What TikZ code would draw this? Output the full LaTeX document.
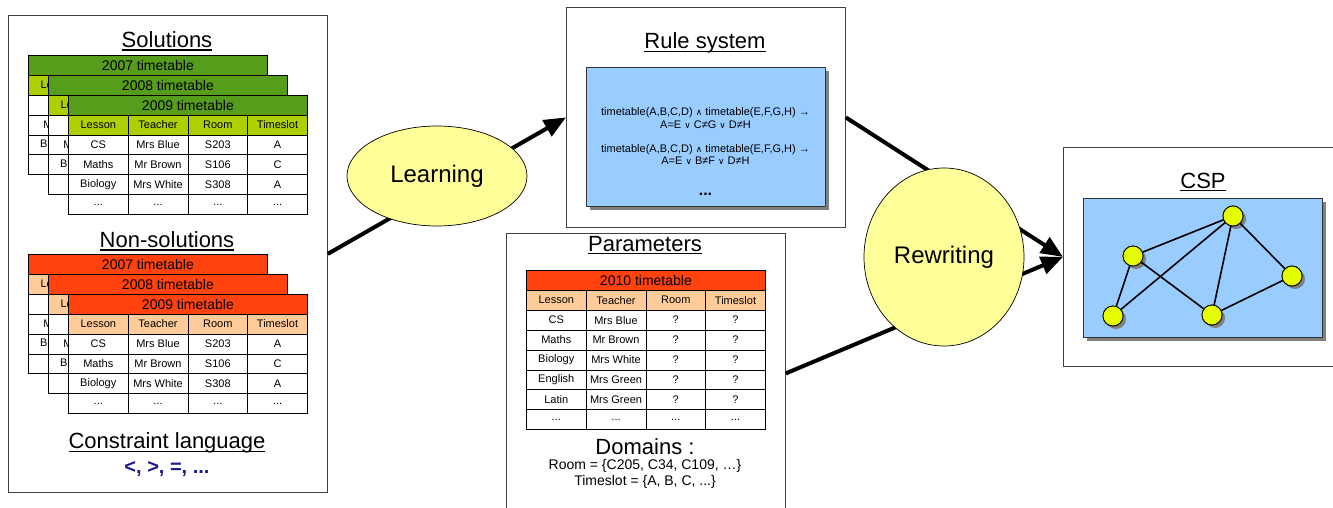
\documentclass[tikz,border=0pt]{standalone}
\usepackage{fontspec}
\setmainfont{Liberation Sans}
\newfontfamily\symfont[Scale=0.8]{DejaVu Sans}
\usetikzlibrary{arrows.meta,shapes.geometric,shadows}
\definecolor{dgreen}{HTML}{579D1C}
\definecolor{lgreen}{HTML}{AECF00}
\definecolor{dorange}{HTML}{FF420E}
\definecolor{peach}{HTML}{FFCC99}
\definecolor{lblue}{HTML}{99CCFF}
\definecolor{lyellow}{HTML}{FFFF99}
\definecolor{nodeyel}{HTML}{E6FF00}
\definecolor{navyblue}{HTML}{1A1A8C}
\definecolor{framegray}{HTML}{404040}
\newcommand{\fs}[2]{\fontsize{#1}{#2}\selectfont}
\newsavebox\ulbox
\newcommand{\ulin}[1]{\sbox\ulbox{#1}\rlap{\rule[-0.14em]{\wd\ulbox}{0.055em}}\usebox\ulbox}
\newcommand{\sand}{{\symfont ∧}}
\newcommand{\sor}{{\symfont ∨}}
\newcommand{\tdots}{...}
% full timetable: #1 name, #2 x, #3 y, #4 title, #5 dark colour, #6 light colour, #7 rows
\newcommand{\ttab}[7]{%
  \node[ttitle, fill=#5, anchor=north west] (#1-t) at (#2,#3) {#4};
  \foreach \hh [count=\cl from 0] in {Lesson,Teacher,Room,Timeslot}
    \node[tcell, fill=#6, anchor=north west] (#1-h\cl) at (#2+\cl*59.75,#3+19.9) {\hh};
  \foreach \va/\vb/\vc/\vd [count=\rw from 2] in {#7}{
    \node[tcell, anchor=north west] (#1-\rw-1) at (#2,#3+\rw*19.9) {\va};
    \node[tcell, anchor=north west] (#1-\rw-2) at (#2+59.75,#3+\rw*19.9) {\vb};
    \node[tcell, anchor=north west] (#1-\rw-3) at (#2+119.5,#3+\rw*19.9) {\vc};
    \node[tcell, anchor=north west] (#1-\rw-4) at (#2+179.25,#3+\rw*19.9) {\vd};
  }%
}
% timetable mostly hidden behind the next one: only its left edge shows
\newcommand{\ttabback}[6]{%
  \node[ttitle, fill=#5, anchor=north west] (#1-t) at (#2,#3) {#4};
  \node[tcell, fill=#6, anchor=north west] (#1-h0) at (#2,#3+19.9) {Le\phantom{sson}};
  \foreach \cl in {1,2,3}
    \node[tcell, fill=#6, anchor=north west] (#1-h\cl) at (#2+\cl*59.75,#3+19.9) {};
  \node[tcell, anchor=north west] (#1-2-1) at (#2,#3+39.8) {};
  \node[tcell, anchor=north west] (#1-3-1) at (#2,#3+59.7) {M\phantom{aths}};
  \node[tcell, anchor=north west] (#1-4-1) at (#2,#3+79.6) {Bi\phantom{ology}};
  \node[tcell, anchor=north west] (#1-5-1) at (#2,#3+99.5) {};
  \foreach \rw in {2,...,5}
    \foreach \cl in {1,2,3}
      \node[tcell, anchor=north west] (#1-\rw-x\cl) at (#2+\cl*59.75,#3+\rw*19.9) {};
}
\begin{document}
\begin{tikzpicture}[x=1pt,y=-1pt,
  panel/.style={draw=framegray, line width=0.8pt, fill=white, anchor=north west, inner sep=0pt},
  ttitle/.style={draw=black, line width=0.8pt, minimum width=239pt, minimum height=19.9pt, inner sep=0pt, font=\fs{14}{16}},
  tcell/.style={draw=black, line width=0.8pt, fill=white, minimum width=59.75pt, minimum height=19.9pt, inner sep=0pt, font=\fs{11}{13}},
  heading/.style={font=\fs{22}{26}, inner sep=0pt},
  bluebox/.style={fill=lblue, draw=black!80, line width=0.6pt, anchor=north west, inner sep=0pt,
    drop shadow={shadow xshift=4pt, shadow yshift=-4pt, fill=black!50, opacity=1}},
  vert/.style={circle, fill=nodeyel, draw=black, line width=0.8pt, minimum size=20pt, inner sep=0pt,
    drop shadow={shadow xshift=3pt, shadow yshift=-3pt, fill=black!50, opacity=1}},
  vtop/.style={circle, fill=nodeyel, draw=black, line width=0.8pt, minimum size=20pt, inner sep=0pt},
  edge/.style={line width=1.6pt, black},
  arr/.style={line width=4pt, -{Triangle[length=22pt,width=18pt]}},
  bubble/.style={ellipse, fill=lyellow, draw=black, line width=0.7pt, inner sep=0pt, font=\fs{24}{28}},
  rule/.style={font=\fs{11}{12.5}, align=center, inner sep=0pt},
]
\useasboundingbox (0,0) rectangle (1333,508);
\fill[white] (0,0) rectangle (1333,508);

% panels
\node[panel, minimum width=319pt, minimum height=477pt] (data) at (8,15) {};
\node[panel, minimum width=279pt, minimum height=220pt] (rules) at (566,7) {};
\node[panel, minimum width=279pt, minimum height=280pt] (params) at (506,233) {};
\node[panel, minimum width=282pt, minimum height=219pt] (csp) at (1063,147) {};

% left panel
\node[heading] (soltitle) at (167,41) {\ulin{Solutions}};
\ttabback{g7}{28}{55}{2007 timetable}{dgreen}{lgreen}
\ttabback{g8}{48}{74.9}{2008 timetable}{dgreen}{lgreen}
\ttab{g9}{68}{94.8}{2009 timetable}{dgreen}{lgreen}{CS/Mrs Blue/S203/A, Maths/Mr Brown/S106/C, Biology/Mrs White/S308/A, \tdots/\tdots/\tdots/\tdots}
\node[heading] (nontitle) at (167,241) {\ulin{Non-solutions}};
\ttabback{r7}{28}{254}{2007 timetable}{dorange}{peach}
\ttabback{r8}{48}{273.9}{2008 timetable}{dorange}{peach}
\ttab{r9}{68}{293.8}{2009 timetable}{dorange}{peach}{CS/Mrs Blue/S203/A, Maths/Mr Brown/S106/C, Biology/Mrs White/S308/A, \tdots/\tdots/\tdots/\tdots}
\node[heading] (cltitle) at (167,443) {\ulin{Constraint language}};
\node[font=\fs{20}{24}\bfseries, text=navyblue, inner sep=0pt] (ops) at (167,469) {<, >, =, \tdots};

% rule system
\node[heading] (rulestitle) at (705,43) {\ulin{Rule system}};
\node[bluebox, minimum width=239pt, minimum height=139pt] (rulebox) at (586,67) {};
\node[rule] (rule1) at (705.5,118) {timetable(A,B,C,D) \sand{} timetable(E,F,G,H) →\\A=E \sor{} C≠G \sor{} D≠H};
\node[rule] (rule2) at (705.5,154.5) {timetable(A,B,C,D) \sand{} timetable(E,F,G,H) →\\A=E \sor{} B≠F \sor{} D≠H};
\node[font=\fs{16}{18}\bfseries, inner sep=0pt] (rdots) at (705.5,194) {\tdots};

% parameters
\node[heading] (paramtitle) at (645,245) {\ulin{Parameters}};
\ttab{p}{526}{270}{2010 timetable}{dorange}{peach}{CS/Mrs Blue/?/?, Maths/Mr Brown/?/?, Biology/Mrs White/?/?, English/Mrs Green/?/?, Latin/Mrs Green/?/?, \tdots/\tdots/\tdots/\tdots}
\node[heading] (domtitle) at (645,447) {Domains :};
\node[font=\fs{14}{16}, inner sep=0pt] (dom1) at (645,466) {Room = \{C205, C34, C109, …\}};
\node[font=\fs{14}{16}, inner sep=0pt] (dom2) at (645,482) {Timeslot = \{A, B, C, \tdots\}};

% CSP
\node[heading] (csptitle) at (1203,182) {\ulin{CSP}};
\node[bluebox, minimum width=239pt, minimum height=139pt] (cspbox) at (1083,198) {};
\node[vert] (v1) at (1233,216) {};
\node[vert] (v2) at (1133,256) {};
\node[vert] (v3) at (1292,276) {};
\node[vert] (v4) at (1113,316) {};
\node[vert] (v5) at (1212,315) {};
\draw[edge] (v1) -- (v2);
\draw[edge] (v1) -- (v4);
\draw[edge] (v1) -- (v5);
\draw[edge] (v1) -- (v3);
\draw[edge] (v2) -- (v4);
\draw[edge] (v2) -- (v5);
\draw[edge] (v5) -- (v3);
\node[vtop] (v1t) at (v1) {};
\node[vtop] (v2t) at (v2) {};
\node[vtop] (v3t) at (v3) {};
\node[vtop] (v4t) at (v4) {};
\node[vtop] (v5t) at (v5) {};

% connectors
\draw[arr] (data.east) -- (rules.west);
\draw[arr] (rules.east) -- (csp.west);
\draw[arr] (params.east) -- (csp.west);

% process bubbles
\node[bubble, minimum width=180pt, minimum height=100pt] (learn) at (437,176) {Learning};
\node[bubble, minimum width=160pt, minimum height=178pt] (rewrite) at (944,257) {Rewriting};
\end{tikzpicture}
\end{document}
